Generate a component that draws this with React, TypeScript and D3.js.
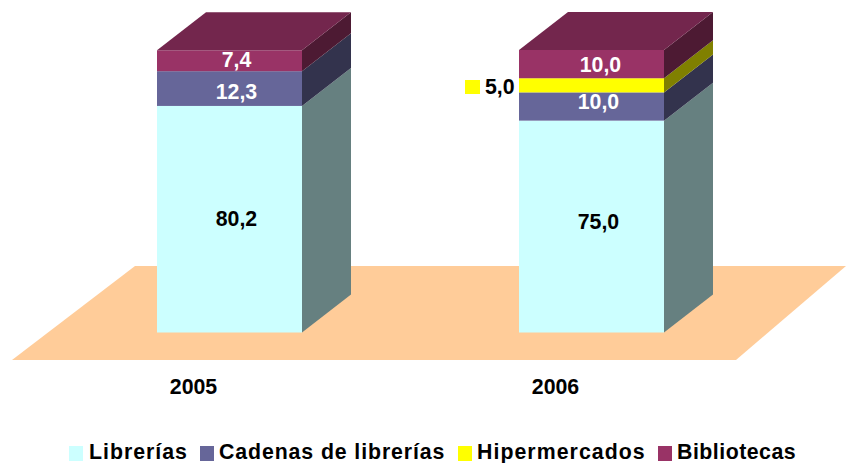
import React from "react";
import * as d3 from "d3";

const years = ["2005", "2006"];
const seriesNames = ["Librerías", "Cadenas de librerías", "Hipermercados", "Bibliotecas"];
const libreriasValues = [80.2, 75.0];
const cadenasValues = [12.3, 10.0];
const hiperValues = [0, 5.0];
const bibliotecasValues = [7.4, 10.0];
const valueLabels = [["80,2", "75,0"], ["12,3", "10,0"], ["", "5,0"], ["7,4", "10,0"]];

const frontColors = ["#CCFFFF", "#666699", "#FFFF00", "#993366"];
const sideColors = ["#668080", "#33334D", "#808000", "#4D1A33"];
const topColor = "#73264D";
const labelColors = ["#000", "#fff", "#000", "#fff"];
const floorColor = "#FFCC99";
const FONT = "'Liberation Sans', Arial, sans-serif";
const FS = 21.3;

const y = d3.scaleLinear().domain([0, 100]).range([332.5, 50]);
const x = d3.scalePoint<string>().domain(years).range([157, 519]);
const barW = 145, dx = 49, dy = -38;
const poly = d3.line();

const legendX = [69, 200, 458, 658];
const legendTextX = [89, 219, 477, 677];
const legendSpacing = [1, 0.9, 1.05, 0.5];
const labelDy = [[-1, -5], [3, -5], [0, 0], [-1, 0]];
const labelDx = [[7, 7], [7, 7], [0, 0], [7, 9]];

export default function App() {
  const all = [libreriasValues, cadenasValues, hiperValues, bibliotecasValues];
  const stacks = years.map((yr, i) => {
    let base = 0;
    return all.map((vals, s) => {
      const seg = { s, y0: base, y1: base + vals[i], v: vals[i] };
      base += vals[i];
      return seg;
    });
  });
  return (
    <svg width={846} height={463} style={{ position: "absolute", left: 0, top: 0, fontFamily: FONT }}>
      <path d={poly([[12, 360], [135, 266], [846, 266], [736, 360]])!} fill={floorColor} />
      {years.map((yr, i) => {
        const x0 = x(yr)!;
        const x1 = x0 + barW;
        const segs = stacks[i].filter(d => d.v > 0);
        const top = y(segs[segs.length - 1].y1);
        return (
          <g key={yr}>
            {segs.map(d => (
              <g key={d.s}>
                <rect x={x0} y={y(d.y1)} width={barW} height={y(d.y0) - y(d.y1)} fill={frontColors[d.s]} />
                <path
                  d={poly([[x1, y(d.y0)], [x1 + dx, y(d.y0) + dy], [x1 + dx, y(d.y1) + dy], [x1, y(d.y1)]])!}
                  fill={sideColors[d.s]}
                />
              </g>
            ))}
            <path d={poly([[x0, top], [x0 + dx, top + dy], [x1 + dx, top + dy], [x1, top]])!} fill={topColor} />
            {segs.filter(d => d.s !== 2).map(d => (
              <text
                key={d.s}
                x={x0 + barW / 2 + labelDx[d.s][i]}
                y={(y(d.y0) + y(d.y1)) / 2 + 7.5 + labelDy[d.s][i]}
                textAnchor="middle"
                fontSize={FS}
                fontWeight="bold"
                fill={labelColors[d.s]}
              >
                {valueLabels[d.s][i]}
              </text>
            ))}
            <text x={x0 + 36.5} y={393.5} textAnchor="middle" fontSize={FS} fontWeight="bold" fill="#000">{yr}</text>
          </g>
        );
      })}
      <rect x={465} y={80} width={15} height={14} fill={frontColors[2]} />
      <text x={485} y={94} fontSize={FS} fontWeight="bold" fill="#000">{valueLabels[2][1]}</text>
      {seriesNames.map((n, i) => (
        <g key={n}>
          <rect x={legendX[i]} y={446} width={14} height={15} fill={frontColors[i]} />
          <text x={legendTextX[i]} y={459} fontSize={FS} fontWeight="bold" letterSpacing={legendSpacing[i]} fill="#000">{n}</text>
        </g>
      ))}
    </svg>
  );
}
